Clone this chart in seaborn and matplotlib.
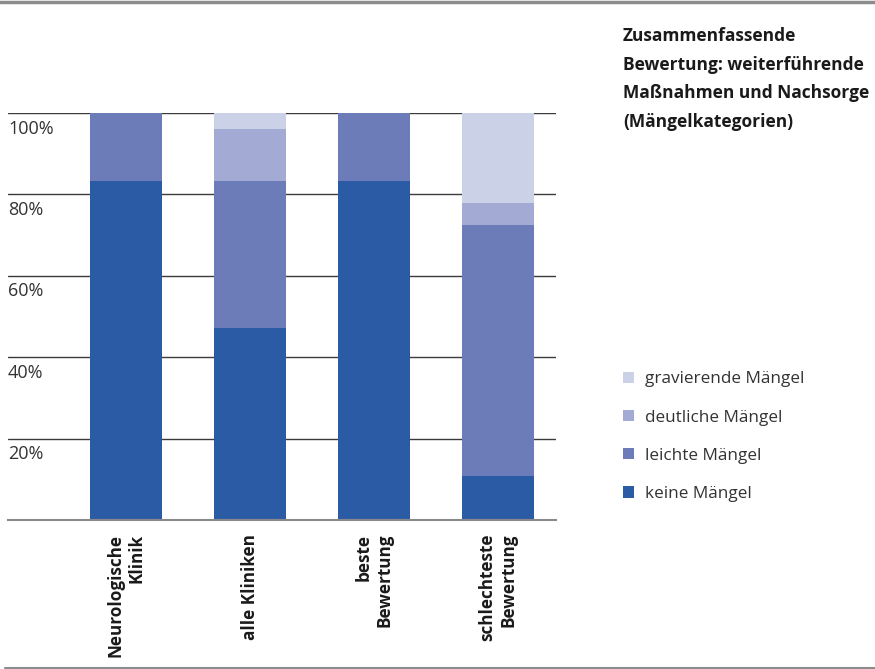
import pandas as pd
import numpy as np
import matplotlib
matplotlib.use('Agg')
import matplotlib.pyplot as plt
import matplotlib.transforms as mtransforms
from matplotlib.patches import Patch
from matplotlib.lines import Line2D
import seaborn as sns

# values in percent
groups = ['Neurologische\nKlinik', 'alle Kliniken', 'beste\nBewertung', 'schlechteste\nBewertung']
keine = [83.3, 47.2, 83.3, 10.9]
leichte = [16.7, 36.1, 16.7, 61.6]
deutliche = [0.0, 12.8, 0.0, 5.4]
gravierende = [0.0, 3.9, 0.0, 22.1]

categories = ['keine Mängel', 'leichte Mängel', 'deutliche Mängel', 'gravierende Mängel']
colors = ['#2c5ba5', '#6b7cb8', '#a3aad4', '#cbd1e7']
yticks = [20, 40, 60, 80, 100]
title = 'Zusammenfassende\nBewertung: weiterführende\nMaßnahmen und Nachsorge\n(Mängelkategorien)'

sns.set_style('white')
plt.rcParams['font.family'] = ['Open Sans', 'DejaVu Sans']

df = pd.DataFrame({'group': groups, 'keine Mängel': keine, 'leichte Mängel': leichte,
                   'deutliche Mängel': deutliche, 'gravierende Mängel': gravierende})
cum = df[categories].cumsum(axis=1)

fig = plt.figure(figsize=(8.75, 6.69), dpi=100)
ax = fig.add_axes([8 / 875, 149 / 669, 548 / 875, 407 / 669])

# horizontal grid lines behind the bars
for v in yticks:
    ax.axhline(v, color='#3a3a3a', lw=1.0, zorder=0)

# stacked bars: draw cumulative totals from the top down
for cat, col in reversed(list(zip(categories, colors))):
    sns.barplot(x=df['group'], y=cum[cat], color=col, width=0.58,
                saturation=1, linewidth=0, ax=ax, zorder=2)

ax.set_xlim(-0.955, 3.47)
ax.set_ylim(0, 100)
ax.set_xlabel('')
ax.set_ylabel('')
ax.set_yticks([])
for s in ['top', 'right', 'left']:
    ax.spines[s].set_visible(False)
ax.spines['bottom'].set_color('#8a8a8a')
ax.spines['bottom'].set_linewidth(1.5)
ax.spines['bottom'].set_zorder(3)

ax.tick_params(axis='x', length=0, pad=10)
ax.set_xticks(range(len(groups)))
ax.set_xticklabels(groups, rotation=90, fontsize=12.3, fontweight='bold',
                   va='top', ha='center', multialignment='right', color='#1a1a1a')

trans = mtransforms.blended_transform_factory(ax.transAxes, ax.transData)
for v in yticks:
    ax.text(0.0, v - 1.6, f'{v}%', transform=trans, ha='left', va='top',
            fontsize=13, color='#333333')

fig.text(623 / 875, 1 - 27 / 669, title, ha='left', va='top', fontsize=12.5,
         fontweight='bold', color='#1a1a1a', linespacing=1.76)

handles = [Patch(facecolor=c, edgecolor='none') for c in reversed(colors)]
fig.legend(handles, list(reversed(categories)), loc='upper left',
           bbox_to_anchor=(608 / 875, 1 - 356 / 669), frameon=False,
           fontsize=12.3, handlelength=0.62, handleheight=0.62,
           handletextpad=0.65, labelspacing=1.3, labelcolor='#333333')

fig.add_artist(Line2D([0, 1], [1 - 1.5 / 669, 1 - 1.5 / 669], color='#8c8c8c', lw=2.5))
fig.add_artist(Line2D([5 / 875, 1], [1 - 668 / 669, 1 - 668 / 669], color='#8c8c8c', lw=1.5))

fig.savefig('out.png', dpi=100)
